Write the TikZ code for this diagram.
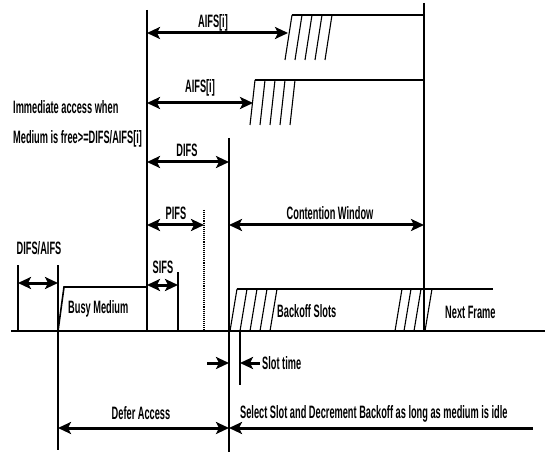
\documentclass[tikz,border=0pt]{standalone}
\usepackage{fontspec}
\setmainfont{Liberation Sans}
\usepackage{graphicx}
\usetikzlibrary{arrows.meta}
\newcommand{\nw}[1]{\scalebox{0.515}[1]{#1}}
\begin{document}
\begin{tikzpicture}[x=1bp,y=-1bp,
  thinline/.style={line width=1.1bp},
  edgeline/.style={line width=1.6bp},
  baseline/.style={line width=2.8bp},
  tipshape/.tip={Stealth[length=13bp,width=12bp,inset=3bp]},
  dimarrow/.style={line width=3bp, tipshape-tipshape},
  rarrow/.style={line width=3bp, -tipshape},
  larrow/.style={line width=3bp, tipshape-},
  lbl/.style={inner sep=0pt, font=\fontsize{18}{18}\selectfont\bfseries},
]
\useasboundingbox (0,0) rectangle (545,452);

% ---------- coordinates ----------
\coordinate (v147t) at (147,10);
\coordinate (v147b) at (147,331);
\coordinate (v229t) at (229,138);
\coordinate (v229b) at (229,452);
\coordinate (v424t) at (424,3);
\coordinate (v424b) at (424,331);
\coordinate (v204t) at (204,210);
\coordinate (v204b) at (204,331);
\coordinate (v178t) at (178,272);
\coordinate (v178b) at (178,331);
\coordinate (v18t) at (18,265);
\coordinate (v18b) at (18,331);
\coordinate (v58t) at (58,265);
\coordinate (v58b) at (58,450);
\coordinate (v240t) at (240,331);
\coordinate (v240b) at (240,385);
\coordinate (baseL) at (11,331);
\coordinate (baseR) at (545,331);

% ---------- vertical lines ----------
\draw[thinline] (v147t) -- (v147b);
\draw[thinline] (v229t) -- (v229b);
\draw[thinline] (v424t) -- (v424b);
\draw[thinline, densely dotted] (v204t) -- (v204b);
\draw[thinline] (v178t) -- (v178b);
\draw[thinline] (v18t) -- (v18b);
\draw[thinline] (v58t) -- (v58b);
\draw[thinline] (v240t) -- (v240b);

% ---------- medium line ----------
\draw[baseline] (baseL) -- (baseR);

% ---------- busy medium ----------
\coordinate (busyTL) at (64,287);
\coordinate (busyTR) at (147,287);
\draw[edgeline] (v58b |- baseL) -- (busyTL) -- (busyTR);

% ---------- slanted slot groups ----------
% upper AIFS group
\coordinate (gaL) at (292,15);
\coordinate (gaR) at (424,15);
\draw[edgeline] (gaL) -- (gaR);
\foreach \k in {0,...,4}
  \draw[thinline] (292+10*\k,15) -- (285+10*\k,60);
% lower AIFS group
\coordinate (gbL) at (255,80);
\coordinate (gbR) at (424,80);
\draw[edgeline] (gbL) -- (gbR);
\foreach \k in {0,...,4}
  \draw[thinline] (255+10*\k,80) -- (250+10*\k,125);
% backoff group
\coordinate (gcL) at (237,289);
\coordinate (gcR) at (493,289);
\draw[edgeline] (gcL) -- (gcR);
\foreach \k in {0,...,4}
  \draw[thinline] (237+10*\k,289) -- (230+10*\k,331);
\foreach \a/\b in {402/395, 411/404, 421/414, 432/425}
  \draw[thinline] (\a,289) -- (\b,331);

% ---------- arrows ----------
\coordinate (aifs1L) at (147,33);  \coordinate (aifs1R) at (288,33);
\draw[dimarrow] (aifs1L) -- (aifs1R);
\coordinate (aifs2L) at (147,103); \coordinate (aifs2R) at (253,103);
\draw[dimarrow] (aifs2L) -- (aifs2R);
\coordinate (difsL) at (147,162);  \coordinate (difsR) at (229,162);
\draw[dimarrow] (difsL) -- (difsR);
\coordinate (pifsL) at (147,225);  \coordinate (pifsR) at (204,225);
\draw[dimarrow] (pifsL) -- (pifsR);
\coordinate (cwL) at (229,225);    \coordinate (cwR) at (424,225);
\draw[dimarrow] (cwL) -- (cwR);
\coordinate (daL) at (18,283);     \coordinate (daR) at (58,283);
\draw[dimarrow] (daL) -- (daR);
\coordinate (sifsL) at (147,285);  \coordinate (sifsR) at (178,285);
\draw[dimarrow] (sifsL) -- (sifsR);
\coordinate (stA) at (207,363);    \coordinate (stB) at (229,363);
\draw[rarrow] (stA) -- (stB);
\coordinate (stC) at (260,363);    \coordinate (stD) at (240,363);
\draw[rarrow] (stC) -- (stD);
\coordinate (defL) at (58,428);    \coordinate (defR) at (229,428);
\draw[dimarrow] (defL) -- (defR);
\coordinate (selL) at (229,428);   \coordinate (selR) at (533,428);
\draw[larrow] (selL) -- (selR);

% ---------- labels ----------
\node[lbl] (tAifs1) at (213,23) {\nw{AIFS[i]}};
\node[lbl] (tAifs2) at (200,88) {\nw{AIFS[i]}};
\node[lbl, anchor=west] (tImm) at (13,107) {\nw{Immediate access when}};
\node[lbl, anchor=west] (tMed) at (13,139) {\nw{Medium is free>=DIFS/AIFS[i]}};
\node[lbl] (tDifs) at (187,150) {\nw{DIFS}};
\node[lbl] (tPifs) at (176,213) {\nw{PIFS}};
\node[lbl] (tCw) at (330,213) {\nw{Contention Window}};
\node[lbl] (tDa) at (39,248) {\nw{DIFS/AIFS}};
\node[lbl] (tSifs) at (163,267) {\nw{SIFS}};
\node[lbl, anchor=west] (tBusy) at (68,309) {\nw{Busy Medium}};
\node[lbl, anchor=west] (tBack) at (277,311) {\nw{Backoff Slots}};
\node[lbl, anchor=west] (tNext) at (445,312) {\nw{Next Frame}};
\node[lbl, anchor=west] (tSlot) at (262,363) {\nw{Slot time}};
\node[lbl] (tDef) at (141,413) {\nw{Defer Access}};
\node[lbl, anchor=west] (tSel) at (240,414) {\nw{Select Slot and Decrement Backoff as long as medium is idle}};
\end{tikzpicture}
\end{document}
